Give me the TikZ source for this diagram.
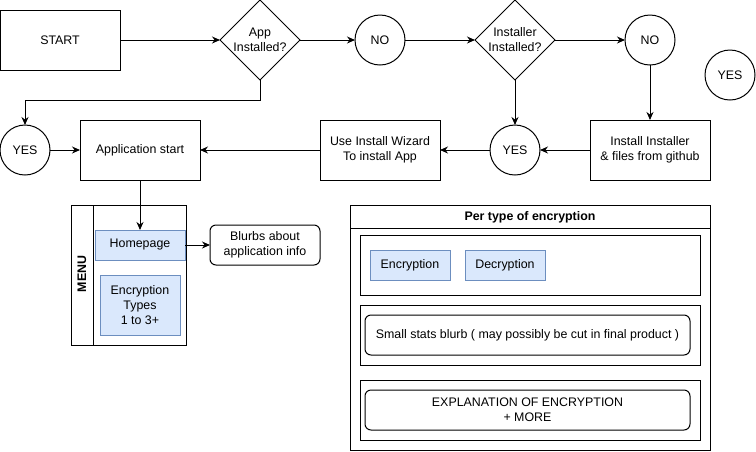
\documentclass[tikz,border=0pt]{standalone}
\usepackage{fontspec}
\setmainfont{Liberation Sans}
\usetikzlibrary{shapes.geometric,arrows.meta}
\definecolor{bluefill}{HTML}{DAE8FC}
\definecolor{blueline}{HTML}{6C8EBF}
\newcommand{\dfont}{\fontsize{12.4}{15}\selectfont}
\tikzset{
  base/.style={draw=black, line width=1pt, inner sep=0pt, outer sep=0pt, align=center, font=\dfont},
  boxnode/.style={base, rectangle},
  roundbox/.style={base, rectangle, rounded corners=6pt},
  circnode/.style={base, circle, minimum size=50pt},
  dianode/.style={base, diamond, minimum width=80pt, minimum height=80pt},
  bluebox/.style={base, rectangle, fill=bluefill, draw=blueline},
  plainbox/.style={draw=black, line width=1pt},
  arr/.style={line width=1pt, -{Stealth[length=8pt,width=7pt]}},
}
\begin{document}
\begin{tikzpicture}[x=1pt,y=-1pt]
\useasboundingbox (0,0) rectangle (756,451);
% top row
\node[boxnode, minimum width=120pt, minimum height=60pt] (start) at (60,40) {START};
\node[dianode, label={[align=center,font=\dfont]center:App\\Installed?}] (appq) at (260,40) {};
\node[circnode] (no1) at (380,40) {NO};
\node[dianode, label={[align=center,font=\dfont]center:Installer\\Installed?}] (instq) at (515,40) {};
\node[circnode] (no2) at (650,40) {NO};
\node[circnode] (yesiso) at (730,75) {YES};
% second row
\node[circnode] (yesl) at (25,150) {YES};
\node[boxnode, minimum width=120pt, minimum height=60pt] (appstart) at (140,150) {Application start};
\node[boxnode, minimum width=120pt, minimum height=60pt] (wizard) at (380,150) {Use Install Wizard\\To install App};
\node[circnode] (yesm) at (515,150) {YES};
\node[boxnode, minimum width=120pt, minimum height=60pt] (instinst) at (650,150) {Install Installer\\\& files from github};
% menu
\node[plainbox, minimum width=115pt, minimum height=140pt, inner sep=0pt, outer sep=0pt] (menu) at (128.5,275) {};
\coordinate (menusplitT) at (93,205);
\coordinate (menusplitB) at (93,345);
\draw[line width=1pt] (menusplitT) -- (menusplitB);
\node[rotate=90, font=\bfseries\dfont] (menulabel) at (82,274) {MENU};
\node[bluebox, minimum width=90pt, minimum height=30pt] (home) at (140,245) {Homepage};
\node[bluebox, minimum width=80pt, minimum height=60pt] (enctypes) at (140,305) {Encryption\\Types\\1 to 3+};
\node[roundbox, minimum width=110pt, minimum height=40pt] (blurbs) at (265,245) {Blurbs about\\application info};
% per type
\node[plainbox, minimum width=360pt, minimum height=245pt, inner sep=0pt, outer sep=0pt] (per) at (530,327.5) {};
\coordinate (perhl) at (350,228);
\coordinate (perhr) at (710,228);
\draw[line width=1pt] (perhl) -- (perhr);
\node[font=\bfseries\dfont] (pertitle) at (530,217) {Per type of encryption};
\node[plainbox, minimum width=340pt, minimum height=60pt, inner sep=0pt, outer sep=0pt] (in1) at (530,265) {};
\node[bluebox, minimum width=80pt, minimum height=30pt] (enc) at (410,265) {Encryption};
\node[bluebox, minimum width=80pt, minimum height=30pt] (dec) at (505,265) {Decryption};
\node[plainbox, minimum width=340pt, minimum height=60pt, inner sep=0pt, outer sep=0pt] (in2) at (530,335) {};
\node[roundbox, minimum width=325pt, minimum height=40pt] (stats) at (527.5,335) {Small stats blurb ( may possibly be cut in final product )};
\node[plainbox, minimum width=340pt, minimum height=60pt, inner sep=0pt, outer sep=0pt] (in3) at (530,410) {};
\node[roundbox, minimum width=325pt, minimum height=40pt] (expl) at (527.5,410) {EXPLANATION OF ENCRYPTION\\+ MORE};
% connectors
\draw[arr] (start.east) -- (appq.west);
\draw[arr] (appq.east) -- (no1.west);
\draw[arr] (no1.east) -- (instq.west);
\draw[arr] (instq.east) -- (no2.west);
\draw[arr] (no2.south) -- (instinst.north);
\draw[arr] (instinst.west) -- (yesm.east);
\draw[arr] (instq.south) -- (yesm.north);
\draw[arr] (yesm.west) -- (wizard.east);
\draw[arr] (wizard.west) -- (appstart.east);
\draw[arr] (yesl.east) -- (appstart.west);
\draw[arr] (appq.south) -- ++(0,20) -| (yesl.north);
\draw[arr] (appstart.south) -- (home.north);
\draw[arr] (home.east) -- (blurbs.west);
\end{tikzpicture}
\end{document}
